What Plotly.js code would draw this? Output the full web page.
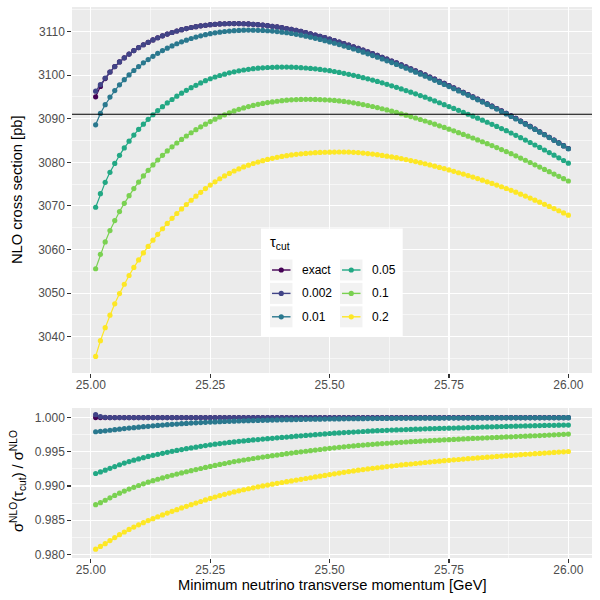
<!DOCTYPE html>
<html>
<head>
<meta charset="utf-8">
<script src="https://cdn.plot.ly/plotly-3.0.1.min.js"></script>
<style>
  html, body { margin: 0; padding: 0; background: #ffffff; }
  #chart { width: 600px; height: 600px; }
</style>
</head>
<body>
<div id="chart"></div>
<script>
// minimum neutrino pT [GeV]
const ptMin = [
  25.01, 25.02, 25.03, 25.04, 25.05, 25.06, 25.07, 25.08, 25.09, 25.10,
  25.11, 25.12, 25.13, 25.14, 25.15, 25.16, 25.17, 25.18, 25.19, 25.20,
  25.21, 25.22, 25.23, 25.24, 25.25, 25.26, 25.27, 25.28, 25.29, 25.30,
  25.31, 25.32, 25.33, 25.34, 25.35, 25.36, 25.37, 25.38, 25.39, 25.40,
  25.41, 25.42, 25.43, 25.44, 25.45, 25.46, 25.47, 25.48, 25.49, 25.50,
  25.51, 25.52, 25.53, 25.54, 25.55, 25.56, 25.57, 25.58, 25.59, 25.60,
  25.61, 25.62, 25.63, 25.64, 25.65, 25.66, 25.67, 25.68, 25.69, 25.70,
  25.71, 25.72, 25.73, 25.74, 25.75, 25.76, 25.77, 25.78, 25.79, 25.80,
  25.81, 25.82, 25.83, 25.84, 25.85, 25.86, 25.87, 25.88, 25.89, 25.90,
  25.91, 25.92, 25.93, 25.94, 25.95, 25.96, 25.97, 25.98, 25.99, 26.00
];

// NLO cross section [pb] for each tau_cut
const sigmaExact = [
  3095.00, 3097.40, 3099.20, 3100.70, 3101.95, 3103.00, 3103.95, 3104.80, 3105.60, 3106.30,
  3106.95, 3107.50, 3108.05, 3108.55, 3109.00, 3109.40, 3109.75, 3110.10, 3110.40, 3110.65,
  3110.90, 3111.10, 3111.28, 3111.42, 3111.55, 3111.64, 3111.71, 3111.76, 3111.79, 3111.80,
  3111.79, 3111.76, 3111.71, 3111.64, 3111.55, 3111.45, 3111.33, 3111.19, 3111.03, 3110.86,
  3110.67, 3110.46, 3110.23, 3109.99, 3109.73, 3109.46, 3109.17, 3108.87, 3108.56, 3108.24,
  3107.91, 3107.57, 3107.22, 3106.86, 3106.49, 3106.11, 3105.72, 3105.32, 3104.91, 3104.50,
  3104.08, 3103.65, 3103.22, 3102.78, 3102.33, 3101.88, 3101.42, 3100.96, 3100.49, 3100.02,
  3099.54, 3099.06, 3098.57, 3098.08, 3097.58, 3097.08, 3096.57, 3096.06, 3095.54, 3095.02,
  3094.49, 3093.96, 3093.42, 3092.88, 3092.33, 3091.78, 3091.22, 3090.64, 3090.05, 3089.45,
  3088.85, 3088.24, 3087.62, 3087.00, 3086.37, 3085.74, 3085.10, 3084.46, 3083.81, 3083.16
];
const sigma0002 = [
  3096.30, 3097.80, 3099.30, 3100.70, 3101.95, 3103.00, 3103.95, 3104.80, 3105.60, 3106.30,
  3106.95, 3107.50, 3108.05, 3108.55, 3109.00, 3109.40, 3109.75, 3110.10, 3110.40, 3110.65,
  3110.90, 3111.10, 3111.28, 3111.42, 3111.55, 3111.64, 3111.71, 3111.76, 3111.79, 3111.80,
  3111.79, 3111.76, 3111.71, 3111.64, 3111.55, 3111.45, 3111.33, 3111.19, 3111.03, 3110.86,
  3110.67, 3110.46, 3110.23, 3109.99, 3109.73, 3109.46, 3109.17, 3108.87, 3108.56, 3108.24,
  3107.91, 3107.57, 3107.22, 3106.86, 3106.49, 3106.11, 3105.72, 3105.32, 3104.91, 3104.50,
  3104.08, 3103.65, 3103.22, 3102.78, 3102.33, 3101.88, 3101.42, 3100.96, 3100.49, 3100.02,
  3099.54, 3099.06, 3098.57, 3098.08, 3097.58, 3097.08, 3096.57, 3096.06, 3095.54, 3095.02,
  3094.49, 3093.96, 3093.42, 3092.88, 3092.33, 3091.78, 3091.22, 3090.64, 3090.05, 3089.45,
  3088.85, 3088.24, 3087.62, 3087.00, 3086.37, 3085.74, 3085.10, 3084.46, 3083.81, 3083.16
];
const sigma001 = [
  3088.60, 3091.20, 3093.20, 3094.95, 3096.45, 3097.75, 3098.95, 3100.02, 3101.04, 3101.95,
  3102.80, 3103.55, 3104.29, 3104.97, 3105.60, 3106.16, 3106.67, 3107.17, 3107.61, 3108.00,
  3108.38, 3108.70, 3109.00, 3109.25, 3109.49, 3109.68, 3109.84, 3109.98, 3110.09, 3110.18,
  3110.24, 3110.28, 3110.30, 3110.29, 3110.26, 3110.22, 3110.16, 3110.07, 3109.96, 3109.84,
  3109.70, 3109.53, 3109.34, 3109.14, 3108.92, 3108.69, 3108.43, 3108.16, 3107.88, 3107.59,
  3107.29, 3106.98, 3106.65, 3106.32, 3105.97, 3105.61, 3105.24, 3104.86, 3104.47, 3104.08,
  3103.68, 3103.27, 3102.85, 3102.43, 3101.99, 3101.56, 3101.11, 3100.66, 3100.20, 3099.74,
  3099.27, 3098.80, 3098.32, 3097.84, 3097.35, 3096.86, 3096.36, 3095.86, 3095.35, 3094.84,
  3094.32, 3093.80, 3093.27, 3092.73, 3092.19, 3091.65, 3091.09, 3090.52, 3089.93, 3089.34,
  3088.75, 3088.14, 3087.53, 3086.91, 3086.29, 3085.66, 3085.03, 3084.39, 3083.75, 3083.10
];
const sigma005 = [
  3069.70, 3072.80, 3075.40, 3077.70, 3079.75, 3081.60, 3083.30, 3084.85, 3086.25, 3087.55,
  3088.75, 3089.85, 3090.90, 3091.85, 3092.75, 3093.60, 3094.40, 3095.15, 3095.85, 3096.50,
  3097.10, 3097.65, 3098.20, 3098.70, 3099.15, 3099.55, 3099.90, 3100.20, 3100.50, 3100.75,
  3100.97, 3101.16, 3101.32, 3101.46, 3101.57, 3101.66, 3101.73, 3101.78, 3101.81, 3101.82,
  3101.82, 3101.80, 3101.76, 3101.70, 3101.62, 3101.53, 3101.42, 3101.29, 3101.15, 3101.00,
  3100.81, 3100.61, 3100.40, 3100.17, 3099.93, 3099.68, 3099.41, 3099.13, 3098.84, 3098.55,
  3098.22, 3097.88, 3097.54, 3097.19, 3096.82, 3096.45, 3096.07, 3095.69, 3095.30, 3094.92,
  3094.50, 3094.08, 3093.65, 3093.22, 3092.78, 3092.35, 3091.91, 3091.47, 3091.02, 3090.57,
  3090.11, 3089.65, 3089.18, 3088.71, 3088.23, 3087.74, 3087.24, 3086.72, 3086.19, 3085.65,
  3085.10, 3084.54, 3083.97, 3083.40, 3082.82, 3082.23, 3081.63, 3081.03, 3080.41, 3079.80
];
const sigma01 = [
  3055.60, 3058.90, 3061.75, 3064.35, 3066.65, 3068.70, 3070.60, 3072.35, 3073.97, 3075.47,
  3076.87, 3078.17, 3079.39, 3080.53, 3081.60, 3082.60, 3083.54, 3084.42, 3085.25, 3086.03,
  3086.77, 3087.47, 3088.13, 3088.75, 3089.33, 3089.88, 3090.40, 3090.89, 3091.35, 3091.78,
  3092.14, 3092.47, 3092.77, 3093.04, 3093.28, 3093.49, 3093.68, 3093.85, 3094.00, 3094.13,
  3094.24, 3094.32, 3094.38, 3094.42, 3094.44, 3094.44, 3094.41, 3094.37, 3094.31, 3094.26,
  3094.18, 3094.08, 3093.95, 3093.80, 3093.64, 3093.45, 3093.24, 3093.02, 3092.79, 3092.55,
  3092.28, 3092.00, 3091.72, 3091.43, 3091.13, 3090.81, 3090.48, 3090.15, 3089.81, 3089.47,
  3089.10, 3088.74, 3088.36, 3087.99, 3087.60, 3087.21, 3086.80, 3086.40, 3085.98, 3085.57,
  3085.14, 3084.71, 3084.27, 3083.83, 3083.38, 3082.92, 3082.46, 3081.97, 3081.48, 3080.97,
  3080.47, 3079.95, 3079.43, 3078.90, 3078.37, 3077.84, 3077.31, 3076.78, 3076.25, 3075.71
];
const sigma02 = [
  3035.50, 3039.10, 3042.10, 3044.95, 3047.55, 3049.90, 3052.05, 3054.05, 3055.90, 3057.62,
  3059.22, 3060.72, 3062.14, 3063.49, 3064.77, 3065.99, 3067.15, 3068.26, 3069.32, 3070.33,
  3071.30, 3072.23, 3073.12, 3073.97, 3074.78, 3075.53, 3076.23, 3076.87, 3077.46, 3078.00,
  3078.49, 3078.94, 3079.35, 3079.72, 3080.06, 3080.37, 3080.65, 3080.90, 3081.13, 3081.34,
  3081.52, 3081.68, 3081.82, 3081.94, 3082.04, 3082.13, 3082.20, 3082.26, 3082.30, 3082.33,
  3082.35, 3082.36, 3082.36, 3082.34, 3082.29, 3082.22, 3082.12, 3082.00, 3081.88, 3081.75,
  3081.58, 3081.41, 3081.23, 3081.05, 3080.85, 3080.63, 3080.39, 3080.16, 3079.91, 3079.67,
  3079.39, 3079.12, 3078.83, 3078.55, 3078.25, 3077.94, 3077.61, 3077.29, 3076.95, 3076.62,
  3076.26, 3075.90, 3075.53, 3075.16, 3074.78, 3074.39, 3073.99, 3073.57, 3073.14, 3072.70,
  3072.25, 3071.79, 3071.32, 3070.85, 3070.37, 3069.88, 3069.39, 3068.89, 3068.39, 3067.88
];

const tauLabels = ['exact', '0.002', '0.01', '0.05', '0.1', '0.2'];
const tauColors = ['#440154', '#414487', '#2A788E', '#22A884', '#7AD151', '#FDE725'];
const refSigma = 3091.0;  // horizontal reference line

const allSigma = [sigmaExact, sigma0002, sigma001, sigma005, sigma01, sigma02];

const FONT = 'Liberation Sans, Arial, sans-serif';
const M = { l: 72, r: 8, t: 7, b: 42 };
const W = 600 - M.l - M.r, H = 600 - M.t - M.b;
const px = x => (x - M.l) / W;          // pixel -> paper
const py = y => 1 - (y - M.t) / H;

const traces = [];
allSigma.forEach((vals, k) => {
  const style = {
    mode: 'lines+markers',
    line: { color: tauColors[k], width: 1.2 },
    marker: { color: tauColors[k], size: 5.2 },
    name: tauLabels[k],
    hoverinfo: 'skip'
  };
  traces.push(Object.assign({ x: ptMin, y: vals, xaxis: 'x', yaxis: 'y' }, style));
  traces.push(Object.assign({
    x: ptMin,
    y: vals.map((v, i) => v / sigmaExact[i]),
    xaxis: 'x2', yaxis: 'y2'
  }, style));
});

// axis styling shared by both panels (ggplot grey theme)
const axisBase = {
  ticks: 'outside', ticklen: 3.7, tickwidth: 1.07, tickcolor: '#333333',
  tickfont: { family: FONT, size: 12, color: '#4D4D4D' },
  showgrid: true, gridcolor: '#FFFFFF', gridwidth: 1.07,
  zeroline: false, showline: false, automargin: false
};
const xBase = Object.assign({}, axisBase, {
  range: [24.9605, 26.0495], tick0: 25, dtick: 0.25, tickformat: '.2f',
  ticklabelstandoff: -3,
  minor: { dtick: 0.125, showgrid: true, gridcolor: '#FFFFFF', gridwidth: 0.53 }
});

// hand-built legend (two columns, like ggplot)
const shapes = [
  { type: 'line', xref: 'x domain', x0: 0, x1: 1, yref: 'y', y0: refSigma, y1: refSigma,
    line: { color: '#000000', width: 1.1 } },
  { type: 'rect', xref: 'paper', yref: 'paper', layer: 'above',
    x0: px(261), x1: px(402.7), y0: py(336), y1: py(228.5),
    fillcolor: '#FFFFFF', line: { width: 0 } }
];
const annotations = [
  { xref: 'paper', yref: 'paper', x: px(267.5), y: py(243), xanchor: 'left', yanchor: 'middle',
    text: 'τ<sub>cut</sub>', showarrow: false, font: { family: FONT, size: 14.7, color: '#000000' } }
];
tauLabels.forEach((lab, k) => {
  const col = Math.floor(k / 3), row = k % 3;
  const bx0 = 270 + col * 70, bx1 = bx0 + 22.5;
  const by0 = 259.5 + row * 23.4, by1 = by0 + 21;
  const yc = (by0 + by1) / 2, xc = (bx0 + bx1) / 2;
  shapes.push({ type: 'rect', xref: 'paper', yref: 'paper', layer: 'above',
    x0: px(bx0), x1: px(bx1), y0: py(by1), y1: py(by0),
    fillcolor: '#F2F2F2', line: { width: 0 } });
  shapes.push({ type: 'line', xref: 'paper', yref: 'paper', layer: 'above',
    x0: px(bx0 + 2), x1: px(bx1 - 2), y0: py(yc), y1: py(yc),
    line: { color: tauColors[k], width: 1.4 } });
  shapes.push({ type: 'circle', xref: 'paper', yref: 'paper', layer: 'above',
    x0: px(xc - 2.6), x1: px(xc + 2.6), y0: py(yc + 2.6), y1: py(yc - 2.6),
    fillcolor: tauColors[k], line: { width: 0 } });
  annotations.push({ xref: 'paper', yref: 'paper', x: px(bx1 + 7), y: py(yc),
    xanchor: 'left', yanchor: 'middle', text: lab, showarrow: false,
    font: { family: FONT, size: 12, color: '#000000' } });
});

// axis titles
annotations.push(
  { xref: 'paper', yref: 'paper', x: px(17), y: py(190), textangle: -90,
    xanchor: 'center', yanchor: 'middle', showarrow: false,
    text: 'NLO cross section [pb]', font: { family: FONT, size: 14.7, color: '#000000' } },
  { xref: 'paper', yref: 'paper', x: px(18), y: py(481), textangle: -90,
    xanchor: 'center', yanchor: 'middle', showarrow: false,
    text: 'σ<sup>NLO</sup>(τ<sub>cut</sub>) / σ<sup>NLO</sup>',
    font: { family: FONT, size: 14.7, color: '#000000' } },
  { xref: 'paper', yref: 'paper', x: px(332), y: py(585), 
    xanchor: 'center', yanchor: 'middle', showarrow: false,
    text: 'Minimum neutrino transverse momentum [GeV]',
    font: { family: FONT, size: 14.7, color: '#000000' } }
);

const layout = {
  width: 600, height: 600,
  margin: M,
  paper_bgcolor: '#FFFFFF',
  plot_bgcolor: '#EBEBEB',
  showlegend: false,
  font: { family: FONT, size: 12, color: '#4D4D4D' },
  xaxis: Object.assign({}, xBase, { domain: [0, 1], anchor: 'y' }),
  xaxis2: Object.assign({}, xBase, { domain: [0, 1], anchor: 'y2' }),
  yaxis: Object.assign({}, axisBase, {
    domain: [py(373), 1], anchor: 'x',
    range: [3031.7, 3115.6], dtick: 10,
    minor: { dtick: 5, showgrid: true, gridcolor: '#FFFFFF', gridwidth: 0.53 }
  }),
  yaxis2: Object.assign({}, axisBase, {
    domain: [0, py(408)], anchor: 'x2',
    range: [0.97948, 1.0014], dtick: 0.005, tickformat: '.3f',
    minor: { dtick: 0.0025, showgrid: true, gridcolor: '#FFFFFF', gridwidth: 0.53 }
  }),
  shapes: shapes,
  annotations: annotations
};

Plotly.newPlot('chart', traces, layout, { staticPlot: true, displayModeBar: false });
</script>
</body>
</html>
